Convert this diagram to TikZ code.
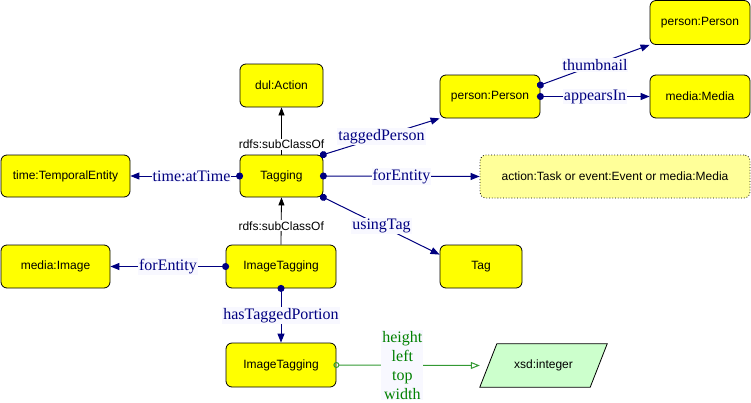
\documentclass[tikz,border=0pt]{standalone}
\usepackage{fontspec}
\setmainfont{Liberation Serif}
\newfontfamily\nodefont{Liberation Sans}
\usetikzlibrary{arrows.meta,backgrounds}
\definecolor{edgeblue}{HTML}{000080}
\definecolor{labelbg}{HTML}{F8F8FF}
\definecolor{clsyellow}{HTML}{FFFF00}
\definecolor{paleyellow}{HTML}{FFFF99}
\definecolor{palegreen}{HTML}{CCFFCC}
\definecolor{dtgreen}{HTML}{008000}
\definecolor{dtline}{HTML}{339933}
\begin{document}
\begin{tikzpicture}[x=1pt,y=-1pt,
  cls/.style={draw=black, fill=clsyellow, rounded corners=6pt, minimum height=43pt,
    inner sep=0pt, line width=0.8pt, font=\nodefont\fontsize{12}{14}\selectfont},
  union/.style={cls, fill=paleyellow, dotted},
  prop/.style={draw=edgeblue, line width=1pt, shorten <=-3.5pt,
    {Circle[length=7pt]}-{Triangle[length=9pt,width=7pt]}},
  sub/.style={draw=black, line width=0.8pt, -{Triangle[length=8pt,width=6pt]}},
  dtp/.style={draw=dtline, line width=1pt, shorten <=-3pt,
    {Circle[open,length=6pt]}-{Triangle[open,length=9pt,width=7pt]}},
  lbl/.style={fill=labelbg, inner sep=1pt, text=edgeblue, font=\fontsize{16}{19}\selectfont},
  glbl/.style={fill=labelbg, inner sep=1pt, text=dtgreen, align=center, font=\fontsize{16}{19}\selectfont},
  sublbl/.style={fill=white, inner sep=1pt, text=black, font=\nodefont\fontsize{12}{14}\selectfont}
]
\useasboundingbox (0,0) rectangle (751,402);

\node[cls, minimum width=83pt] (action) at (281.5,85.5) {dul:Action};
\node[cls, minimum width=83pt, minimum height=42pt] (tagging) at (281.5,176) {Tagging};
\node[cls, minimum width=129pt, minimum height=42pt] (temporal) at (65.5,176) {time:TemporalEntity};
\node[cls, minimum width=109pt] (mimage) at (55.5,266.5) {media:Image};
\node[cls, minimum width=110pt] (itag) at (281,266.5) {ImageTagging};
\node[cls, minimum width=110pt, minimum height=44pt] (itag2) at (281,365) {ImageTagging};
\node[cls, minimum width=100pt] (pp) at (490,96.5) {person:Person};
\node[cls, minimum width=100pt, minimum height=44pt] (pp2) at (700,22.5) {person:Person};
\node[cls, minimum width=100pt] (mm) at (700,96.5) {media:Media};
\node[union, minimum width=270pt] (entity) at (615,176.5) {action:Task or event:Event or media:Media};
\node[cls, minimum width=82pt] (tag) at (481,266.5) {Tag};
\node[inner sep=0pt, minimum width=127pt, minimum height=43pt,
  font=\nodefont\fontsize{12}{14}\selectfont] (xsd) at (543.5,365.5) {xsd:integer};
\begin{scope}[on background layer]
  \draw[fill=palegreen, line width=0.8pt] ([xshift=17pt]xsd.north west) -- (xsd.north east)
    -- ([xshift=-17pt]xsd.south east) -- (xsd.south west) -- cycle;
\end{scope}

\draw[sub] (tagging.north) -- node[sublbl, pos=0.21] {rdfs:subClassOf} (action.south);
\draw[sub] (itag.north) -- node[sublbl, pos=0.4] {rdfs:subClassOf} (tagging.south);

\draw[prop] (tagging.west) -- node[lbl, pos=0.44] {time:atTime} (temporal.east);
\draw[prop] (tagging.north east) -- node[lbl] {taggedPerson} (pp.south west);
\draw[prop] (tagging.east) -- node[lbl] {forEntity} (entity.west);
\draw[prop] (tagging.south east) -- node[lbl] {usingTag} ([yshift=-10pt]tag.north west);
\draw[prop] (itag.west) -- node[lbl] {forEntity} (mimage.east);
\draw[prop] (itag.south) -- node[lbl] {hasTaggedPortion} (itag2.north);
\draw[prop] ([yshift=11.5pt]pp.east) -- node[lbl] {thumbnail} (pp2.south west);
\draw[prop] (pp.east) -- node[lbl] {appearsIn} (mm.west);

\draw[dtp] (itag2.east) -- node[glbl, pos=0.46] {height\\left\\top\\width} (xsd.west);
\end{tikzpicture}
\end{document}
